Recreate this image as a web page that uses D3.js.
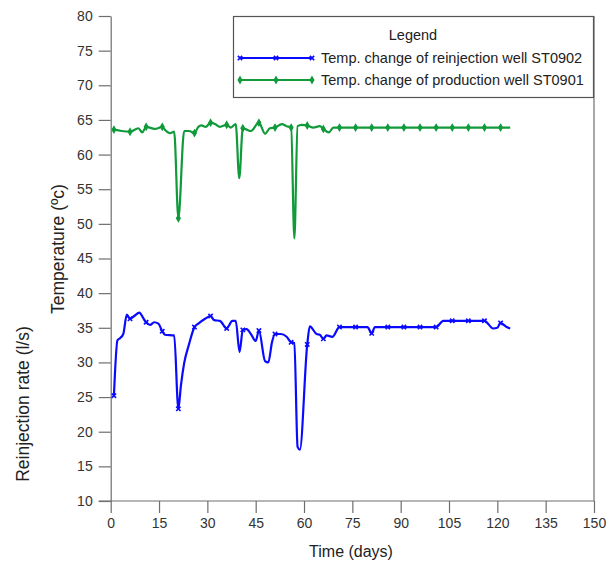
<!DOCTYPE html>
<html>
<head>
<meta charset="utf-8">
<script src="https://cdn.jsdelivr.net/npm/d3@7"></script>
<style>
  body { margin: 0; background: #fff; }
  svg { display: block; font-family: "Liberation Sans", Arial, sans-serif; }
</style>
</head>
<body>
<svg></svg>
<script>
// Chart values
const xTicks = [0, 15, 30, 45, 60, 75, 90, 105, 120, 135, 150];
const yTicks = [10, 15, 20, 25, 30, 35, 40, 45, 50, 55, 60, 65, 70, 75, 80];
const markerDays = [1, 6, 11, 16, 21, 26, 31, 36, 41, 46, 51, 56, 61, 66, 71, 76, 81, 86, 91, 96, 101, 106, 111, 116, 121];

const reinjectionTemp = [
  [1, 25.2], [2.1, 33.2], [2.9, 33.5], [3.9, 34.1], [5, 36.9], [6, 36.3], [7.3, 36.7], [8.9, 37.2],
  [10.1, 36.4], [11, 35.8], [12.2, 35.4], [13.5, 35.8], [14.8, 35.6], [16, 34.5], [16.8, 34.0],
  [19.7, 33.9], [21, 23.3], [21.8, 26.7], [22.8, 29.9], [24.3, 32.6], [26, 35.1], [27.2, 35.6],
  [29.3, 36.3], [31, 36.7], [32.1, 36.1], [33.9, 36.0], [36, 34.9], [36.7, 35.3], [37.7, 36.0],
  [38.8, 36.0], [40, 31.5], [41, 34.7], [42.2, 34.8], [43.5, 34.1], [45, 33.1], [46, 34.6],
  [47.9, 30.2], [48.9, 30.0], [50.1, 33.0], [51, 34.1], [52.8, 34.1], [54.6, 33.7], [56, 32.9],
  [57, 32.8], [58, 17.8], [58.7, 17.4], [61, 32.6], [61.8, 35.2], [63.9, 34.1], [64.9, 34.0],
  [66, 33.4], [67, 33.9], [68.8, 33.7], [71, 35.1], [76, 35.1], [79.7, 35.1], [81, 34.2],
  [82, 35.1], [86, 35.1], [91, 35.1], [96, 35.1], [101, 35.1], [103.2, 36.0], [106, 36.0],
  [111, 36.0], [116, 36.0], [118.7, 34.9], [120, 35.0], [121, 35.7], [122.9, 35.1], [124, 34.9]
];

const productionTemp = [
  [1, 63.6], [3.4, 63.4], [6, 63.3], [8.6, 63.8], [9.8, 63.2], [11, 64.0], [13.7, 63.7], [16, 64.0],
  [16.8, 63.6], [18.4, 63.1], [19.7, 63.3], [21, 50.8], [22.8, 63.4], [24.3, 63.4], [26, 63.1],
  [27.2, 64.0], [28.2, 64.2], [29.5, 64.0], [31, 64.6], [32.4, 64.4], [33.9, 64.0], [36, 64.3],
  [37.3, 63.9], [38.8, 64.4], [39.9, 56.6], [41, 63.8], [42.2, 63.6], [43.5, 63.4], [46, 64.6],
  [47.9, 63.0], [49.4, 63.8], [51, 63.9], [53.1, 64.4], [54.6, 64.1], [56, 63.9], [57, 47.9],
  [58, 64.1], [59.3, 64.3], [61, 64.2], [62.9, 63.9], [64.9, 64.1], [66, 63.7], [67.7, 63.2],
  [69.1, 63.9], [71, 63.9], [76, 63.9], [81, 63.9], [86, 63.9], [91, 63.9], [96, 63.9],
  [101, 63.9], [106, 63.9], [111, 63.9], [116, 63.9], [121, 63.9], [124, 63.9]
];

const seriesNames = ["Temp. change of reinjection well ST0902", "Temp. change of production well ST0901"];

// Layout
const svgWidth = 610, svgHeight = 567;
const plot = { left: 110.7, right: 594, top: 16, bottom: 501 };
const blue = "#0a0aff", green = "#109a3a", axisColor = "#6e6e6e";

const svg = d3.select("svg").attr("width", svgWidth).attr("height", svgHeight);

const x = d3.scaleLinear().domain([0, 150]).range([plot.left, plot.right]);
const y = d3.scaleLinear().domain([10, 80]).range([plot.bottom, plot.top]);

// Right frame line
svg.append("line")
    .attr("x1", x(150)).attr("x2", x(150))
    .attr("y1", plot.top).attr("y2", plot.bottom)
    .attr("stroke", axisColor).attr("stroke-width", 1.2);

// Axes
const xAxis = svg.append("g")
    .attr("transform", `translate(0,${plot.bottom})`)
    .call(d3.axisBottom(x).tickValues(xTicks).tickSize(12).tickSizeOuter(0).tickPadding(5));

const yAxis = svg.append("g")
    .attr("transform", `translate(${plot.left},0)`)
    .call(d3.axisLeft(y).tickValues(yTicks).tickSize(12).tickSizeOuter(0).tickPadding(6));

// extend x axis line a bit to the left so the axes cross
xAxis.select(".domain").attr("d", `M${plot.left - 12},0H${plot.right}`);

[xAxis, yAxis].forEach(g => {
    g.selectAll("path, line").attr("stroke", axisColor).attr("stroke-width", 1.2);
    g.selectAll("text").attr("fill", "#333").style("font-size", "14px")
        .style("font-family", "'Liberation Sans', Arial, sans-serif");
});

// Axis titles
svg.append("text")
    .attr("x", 351).attr("y", 557)
    .attr("text-anchor", "middle")
    .style("font-size", "16px").attr("fill", "#222")
    .text("Time (days)");

svg.append("text")
    .attr("transform", "translate(64,249) rotate(-90)")
    .attr("text-anchor", "middle")
    .style("font-size", "17.5px").attr("fill", "#222")
    .text("Temperature (ºc)");

svg.append("text")
    .attr("transform", "translate(29,404) rotate(-90)")
    .attr("text-anchor", "middle")
    .style("font-size", "17.5px").attr("fill", "#222")
    .text("Reinjection rate (l/s)");

// Lines
const line = d3.line()
    .x(d => x(d[0]))
    .y(d => y(d[1]))
    .curve(d3.curveMonotoneX);

const crossSymbol = d3.symbol().type(d3.symbolX).size(14);
const diamondSymbol = d3.symbol().type(d3.symbolDiamond).size(12);

function drawSeries(data, color, symbol, isStroke) {
    svg.append("path")
        .datum(data)
        .attr("fill", "none")
        .attr("stroke", color)
        .attr("stroke-width", 2.2)
        .attr("stroke-linejoin", "round")
        .attr("d", line);

    svg.append("g")
        .selectAll("path")
        .data(data.filter(d => markerDays.includes(d[0])))
        .enter()
        .append("path")
        .attr("transform", d => `translate(${x(d[0])},${y(d[1])})`)
        .attr("d", symbol)
        .attr("fill", isStroke ? "none" : color)
        .attr("stroke", color)
        .attr("stroke-width", isStroke ? 1.6 : 1.2);
}

drawSeries(reinjectionTemp, blue, crossSymbol, true);
drawSeries(productionTemp, green, diamondSymbol, false);

// Legend
const legend = svg.append("g");
legend.append("rect")
    .attr("x", 233.5).attr("y", 16.5)
    .attr("width", 360).attr("height", 81)
    .attr("fill", "#fff")
    .attr("stroke", "#555").attr("stroke-width", 1.2);

legend.append("text")
    .attr("x", 413).attr("y", 40)
    .attr("text-anchor", "middle")
    .style("font-size", "14.5px").attr("fill", "#222")
    .text("Legend");

const legendItems = [
    { name: seriesNames[0], color: blue, symbol: crossSymbol, isStroke: true, y: 58 },
    { name: seriesNames[1], color: green, symbol: diamondSymbol, isStroke: false, y: 80 }
];

legendItems.forEach(item => {
    legend.append("line")
        .attr("x1", 240).attr("x2", 312)
        .attr("y1", item.y).attr("y2", item.y)
        .attr("stroke", item.color).attr("stroke-width", 2.2);
    [240, 276, 312].forEach(px => {
        legend.append("path")
            .attr("transform", `translate(${px},${item.y})`)
            .attr("d", item.symbol)
            .attr("fill", item.isStroke ? "none" : item.color)
            .attr("stroke", item.color)
            .attr("stroke-width", item.isStroke ? 1.6 : 1.2);
    });
    legend.append("text")
        .attr("x", 321).attr("y", item.y + 5)
        .style("font-size", "14.5px").attr("fill", "#222")
        .text(item.name);
});
</script>
</body>
</html>
